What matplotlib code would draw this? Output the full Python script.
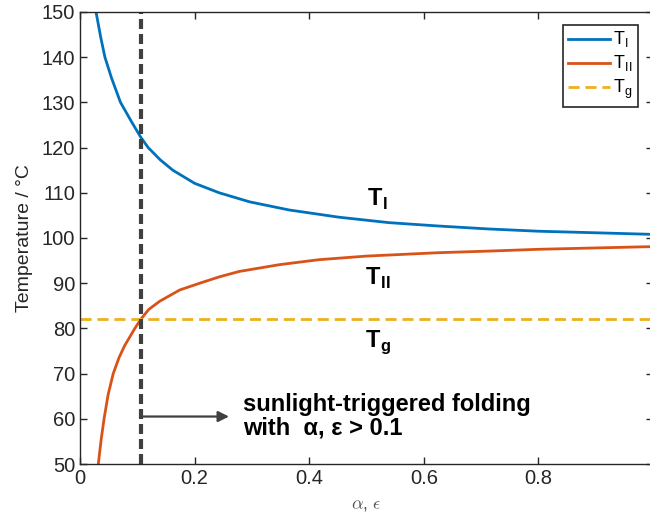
import numpy as np
import matplotlib
matplotlib.use('Agg')
import matplotlib.pyplot as plt

plt.rcParams['font.family'] = ['Liberation Sans', 'DejaVu Sans']
plt.rcParams['mathtext.fontset'] = 'cm'

# values
x_I = [0.028, 0.036, 0.0435, 0.055, 0.0707, 0.09, 0.106, 0.119, 0.14, 0.162, 0.2,
       0.243, 0.296, 0.365, 0.452, 0.539, 0.626, 0.713, 0.8, 0.887, 1.0]
T_I = [150.0, 144.5, 140.0, 135.4, 130.0, 125.7, 122.3, 120.0, 117.3, 115.0, 112.1,
       110.0, 108.0, 106.2, 104.6, 103.4, 102.65, 102.0, 101.5, 101.2, 100.8]

x_II = [0.032, 0.037, 0.042, 0.049, 0.058, 0.068, 0.078, 0.0957, 0.106, 0.12, 0.139,
        0.174, 0.209, 0.243, 0.278, 0.348, 0.417, 0.5, 0.626, 0.713, 0.8, 0.9, 1.0]
T_II = [50.0, 55.5, 60.0, 65.3, 70.0, 73.5, 76.2, 80.0, 82.0, 84.2, 86.0,
        88.5, 90.0, 91.4, 92.6, 94.1, 95.2, 96.0, 96.75, 97.1, 97.5, 97.8, 98.1]

T_g = 82.0
alpha_crit = 0.107

blue = '#0072BD'
orange = '#D95319'
yellow = '#EDB120'

fig = plt.figure(figsize=(6.5, 5.15), dpi=100)
ax = fig.add_axes([80 / 650, (515 - 464) / 515, 573 / 650, (464 - 12) / 515])

ax.plot(x_I, T_I, color=blue, lw=2, label=r'T$_\mathregular{I}$')
ax.plot(x_II, T_II, color=orange, lw=2, label=r'T$_\mathregular{II}$')
ax.axhline(T_g, color=yellow, lw=2, dashes=(4, 2.1), label=r'T$_\mathregular{g}$')
ax.axvline(alpha_crit, color='#404040', lw=3, dashes=(2.4, 1.2))

ax.annotate('', xy=(0.26, 60.5), xytext=(alpha_crit, 60.5),
            arrowprops=dict(arrowstyle='-|>', color='#404040', lw=1.6,
                            mutation_scale=16, shrinkA=0, shrinkB=0))

ax.text(0.52, 108.5, r'T$_\mathregular{I}$', fontsize=17, fontweight='bold',
        ha='center', va='center')
ax.text(0.52, 91, r'T$_\mathregular{II}$', fontsize=17, fontweight='bold',
        ha='center', va='center')
ax.text(0.52, 77, r'T$_\mathregular{g}$', fontsize=17, fontweight='bold',
        ha='center', va='center')
ax.text(0.284, 60.6, 'sunlight-triggered folding\nwith  α, ε > 0.1', fontsize=17,
        fontweight='bold', ha='left', va='center', linespacing=1.0)

ax.set_xlim(0, 1)
ax.set_ylim(50, 150)
ax.set_xticks([0, 0.2, 0.4, 0.6, 0.8])
ax.set_xticklabels(['0', '0.2', '0.4', '0.6', '0.8'])
ax.set_yticks(range(50, 151, 10))
ax.tick_params(direction='in', top=True, right=True, labelsize=14.5,
               colors='#262626', length=5, width=1)
for s in ax.spines.values():
    s.set_color('#262626')
    s.set_linewidth(1)

ax.set_xlabel(r'$\alpha$, $\epsilon$', fontsize=13, color='#555555', labelpad=6)
ax.set_ylabel('Temperature / °C', fontsize=14, color='#262626', labelpad=6)

leg = ax.legend(loc='upper right', bbox_to_anchor=(0.974, 0.972), fontsize=13,
                fancybox=False, framealpha=1, edgecolor='#262626',
                handlelength=2.3, handletextpad=0.15, borderpad=0.3,
                labelspacing=0.22, borderaxespad=0)
leg.get_frame().set_linewidth(1.2)

fig.savefig('out.png', dpi=100)
